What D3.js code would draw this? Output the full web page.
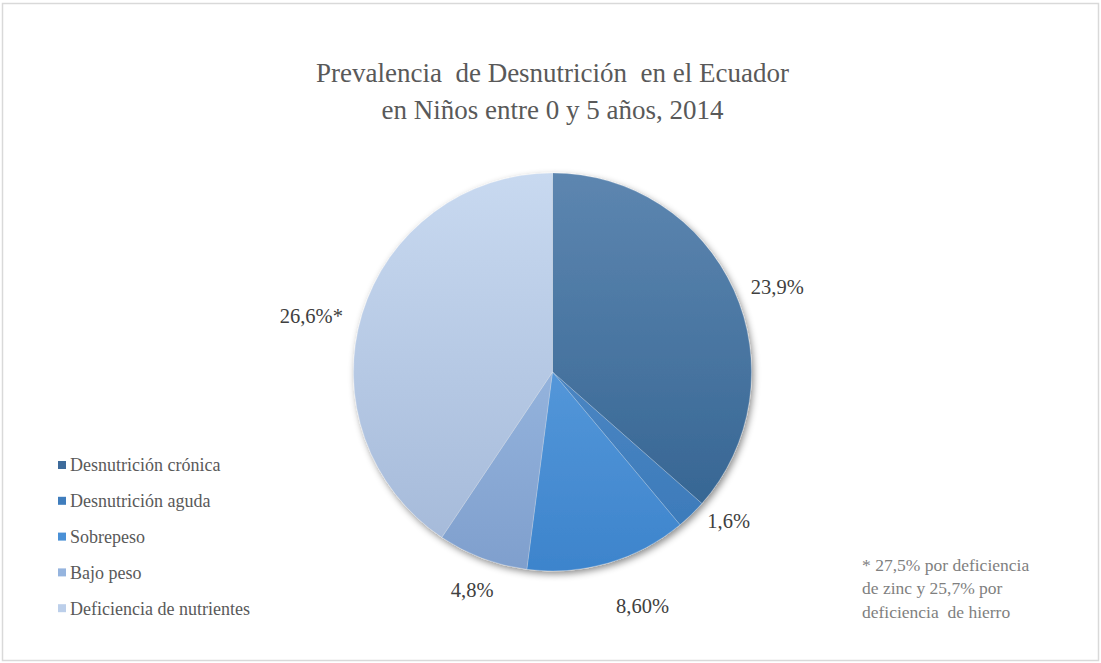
<!DOCTYPE html>
<html>
<head>
<meta charset="utf-8">
<script src="https://cdn.jsdelivr.net/npm/d3@7"></script>
<style>
  body { margin: 0; background: #fff; }
</style>
</head>
<body>
<svg id="chart" width="1101" height="663"></svg>
<script>
// chart data
const categories = ['Desnutrición crónica', 'Desnutrición aguda', 'Sobrepeso', 'Bajo peso', 'Deficiencia de nutrientes'];
const values = [23.9, 1.6, 8.6, 4.8, 26.6];
const valueLabels = ['23,9%', '1,6%', '8,60%', '4,8%', '26,6%*'];
const titleLines = ['Prevalencia  de Desnutrición  en el Ecuador', 'en Niños entre 0 y 5 años, 2014'];
const noteLines = ['* 27,5% por deficiencia', 'de zinc y 25,7% por', 'deficiencia  de hierro'];

const topColors = ['#5d86b0', '#5b93cd', '#6aa9e6', '#a9c7ec', '#c8d9f0'];
const bottomColors = ['#2f608e', '#3978b8', '#3d84cc', '#7f9fcd', '#a3b8d8'];
const legendColors = ['#3e6b9b', '#3f7dbd', '#4a90d6', '#95b4de', '#bccfea'];

const FONT = "'Times New Roman', 'Liberation Serif', Tinos, 'Noto Serif', 'DejaVu Serif', FreeSerif, 'Nimbus Roman', Times, serif";
const svg = d3.select('#chart');
const W = 1101, H = 663;
const cx = 552.5, cy = 372, r = 199;

// frame
svg.append('rect')
  .attr('x', 2.5).attr('y', 3.5)
  .attr('width', W - 5).attr('height', H - 6)
  .attr('fill', '#fff')
  .attr('stroke', '#d9d9d9')
  .attr('stroke-width', 1.5);

const defs = svg.append('defs');

const shadow = defs.append('filter')
  .attr('id', 'shadow')
  .attr('x', '-20%').attr('y', '-20%')
  .attr('width', '140%').attr('height', '140%');
shadow.append('feDropShadow')
  .attr('dx', 2).attr('dy', 3)
  .attr('stdDeviation', 3.5)
  .attr('flood-color', '#000')
  .attr('flood-opacity', 0.45);

// gradients live in the pie group's coordinates (centre at 0,0)
categories.forEach((c, i) => {
  const g = defs.append('linearGradient')
    .attr('id', 'grad' + i)
    .attr('gradientUnits', 'userSpaceOnUse')
    .attr('x1', 0).attr('x2', 0)
    .attr('y1', -r).attr('y2', r);
  g.append('stop').attr('offset', '0%').attr('stop-color', topColors[i]);
  g.append('stop').attr('offset', '100%').attr('stop-color', bottomColors[i]);
});

// title
svg.append('text')
  .style('font-family', FONT)
  .attr('text-anchor', 'middle')
  .attr('font-size', 27)
  .attr('fill', '#595959')
  .selectAll('tspan')
  .data(titleLines)
  .enter().append('tspan')
  .attr('x', cx)
  .attr('y', (d, i) => 82 + i * 37)
  .style('white-space', 'pre')
  .text(d => d);

// pie
const pie = d3.pie().sort(null).value(d => d);
const arc = d3.arc().innerRadius(0).outerRadius(r);
const arcs = pie(values);

const pieG = svg.append('g')
  .attr('transform', 'translate(' + cx + ',' + cy + ')')
  .attr('filter', 'url(#shadow)');

pieG.selectAll('.slice')
  .data(arcs)
  .enter().append('path')
  .attr('class', 'slice')
  .attr('d', arc)
  .attr('fill', (d, i) => 'url(#grad' + i + ')')
  .attr('stroke', 'rgba(255,255,255,0.35)')
  .attr('stroke-width', 0.6);

// value labels
const labelArc = d3.arc().innerRadius(r + 52).outerRadius(r + 52);
const labelOffsets = [[-4, 18], [1, -31], [20, -7], [8, -17], [-1, 17]];
svg.selectAll('.vlabel')
  .data(arcs)
  .enter().append('text')
  .attr('class', 'vlabel')
  .style('font-family', FONT)
  .attr('transform', (d, i) => {
    const p = labelArc.centroid(d);
    return 'translate(' + (cx + p[0] + labelOffsets[i][0]) + ',' + (cy + p[1] + labelOffsets[i][1]) + ')';
  })
  .attr('text-anchor', 'middle')
  .attr('dy', '0.35em')
  .attr('font-size', 20.5)
  .attr('fill', '#404040')
  .text((d, i) => valueLabels[i]);

// legend
const items = svg.append('g').selectAll('.item')
  .data(categories)
  .enter().append('g')
  .attr('class', 'item')
  .attr('transform', (d, i) => 'translate(58,' + (465 + i * 35.8) + ')');
items.append('rect')
  .attr('x', 0).attr('y', -4)
  .attr('width', 8).attr('height', 8)
  .attr('fill', (d, i) => legendColors[i]);
items.append('text')
  .style('font-family', FONT)
  .attr('x', 12).attr('y', 0)
  .attr('dy', '0.35em')
  .attr('font-size', 18)
  .attr('fill', '#595959')
  .text(d => d);

// footnote
svg.append('text')
  .style('font-family', FONT)
  .attr('font-size', 17.5)
  .attr('fill', '#7f7f7f')
  .selectAll('tspan')
  .data(noteLines)
  .enter().append('tspan')
  .attr('x', 862)
  .attr('y', (d, i) => 571 + i * 23.3)
  .style('white-space', 'pre')
  .text(d => d);
</script>
</body>
</html>
